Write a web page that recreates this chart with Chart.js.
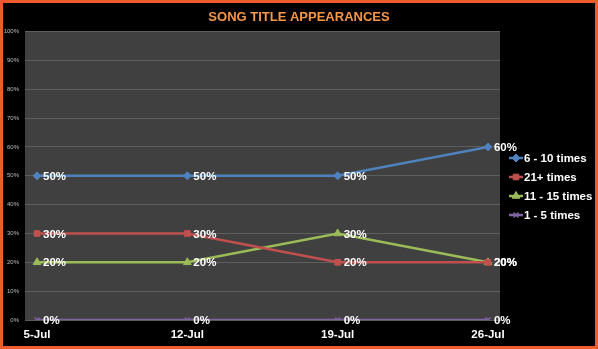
<!DOCTYPE html>
<html>
<head>
<meta charset="utf-8">
<script src="https://cdn.jsdelivr.net/npm/chart.js@4"></script>
<style>
  html, body { margin: 0; padding: 0; background: #000; }
  #wrap { width: 598px; height: 349px; position: relative; }
  canvas { display: block; }
</style>
</head>
<body>
<div id="wrap"><canvas id="c" width="598" height="349"></canvas></div>
<script>
// Weekly share of song titles by number of appearances
const weeks = ['5-Jul', '12-Jul', '19-Jul', '26-Jul'];
const seriesNames = ['6 - 10 times', '21+ times', '11 - 15 times', '1 - 5 times'];
const times6to10 = [50, 50, 50, 60];
const times21plus = [30, 30, 20, 20];
const times11to15 = [20, 20, 30, 20];
const times1to5 = [0, 0, 0, 0];
const yTicks = [0, 10, 20, 30, 40, 50, 60, 70, 80, 90, 100];

const seriesValues = [times6to10, times21plus, times11to15, times1to5];
const seriesColors = ['#4F81BD', '#C0504D', '#9BBB59', '#8064A2'];
const seriesMarkers = ['rectRot', 'rect', 'triangle', 'crossRot'];
const markerSizes = [4, 4, 4.5, 3.5];

const FONT = '"Liberation Sans", Arial, sans-serif';

const datasets = seriesNames.map((name, i) => ({
  label: name,
  data: seriesValues[i].map((v, k) => ({ x: k, y: v })),
  borderColor: seriesColors[i],
  backgroundColor: seriesColors[i],
  borderWidth: 2.5,
  pointStyle: seriesMarkers[i],
  pointRadius: markerSizes[i],
  pointBorderWidth: i === 3 ? 1.5 : 1,
  pointBorderColor: seriesColors[i],
  pointHoverRadius: markerSizes[i],
  tension: 0
}));

// Gray plot area behind the gridlines, plus the orange frame
const plotBackground = {
  id: 'plotBackground',
  beforeDraw(chart) {
    const { ctx, chartArea: a } = chart;
    ctx.save();
    ctx.fillStyle = '#404040';
    ctx.fillRect(a.left, a.top, a.right - a.left, a.bottom - a.top);
    ctx.restore();
  },
  afterDraw(chart) {
    const ctx = chart.ctx;
    ctx.save();
    ctx.strokeStyle = '#EE5B2C';
    ctx.lineWidth = 3;
    ctx.strokeRect(1.5, 1.5, chart.width - 3, chart.height - 3);
    ctx.restore();
  }
};

// Percentage labels to the right of every point
const valueLabels = {
  id: 'valueLabels',
  afterDatasetsDraw(chart) {
    const ctx = chart.ctx;
    ctx.save();
    ctx.font = 'bold 11.5px ' + FONT;
    ctx.fillStyle = '#FFFFFF';
    ctx.textAlign = 'left';
    ctx.textBaseline = 'middle';
    chart.data.datasets.forEach((ds, i) => {
      const meta = chart.getDatasetMeta(i);
      meta.data.forEach((pt, k) => {
        ctx.fillText(ds.data[k].y + '%', pt.x + 6, pt.y + 1);
      });
    });
    ctx.restore();
  }
};

// Legend on the right: short line with the series marker, then the name
const sideLegend = {
  id: 'sideLegend',
  afterDraw(chart) {
    const ctx = chart.ctx;
    const x0 = 509, x1 = 523, yStart = 158, step = 19;
    ctx.save();
    chart.data.datasets.forEach((ds, i) => {
      const y = yStart + i * step;
      ctx.strokeStyle = ds.borderColor;
      ctx.lineWidth = 2.5;
      ctx.beginPath();
      ctx.moveTo(x0, y);
      ctx.lineTo(x1, y);
      ctx.stroke();
      ctx.fillStyle = ds.backgroundColor;
      ctx.strokeStyle = ds.borderColor;
      ctx.lineWidth = ds.pointBorderWidth;
      Chart.helpers.drawPoint(ctx, { pointStyle: ds.pointStyle, radius: ds.pointRadius, rotation: 0, borderWidth: ds.pointBorderWidth }, (x0 + x1) / 2, y);
      ctx.font = 'bold 11.5px ' + FONT;
      ctx.fillStyle = '#FFFFFF';
      ctx.textBaseline = 'middle';
      ctx.textAlign = 'left';
      ctx.fillText(ds.label, x1 + 1, y + 1);
    });
    ctx.restore();
  }
};

new Chart(document.getElementById('c'), {
  type: 'line',
  data: { datasets },
  plugins: [plotBackground, valueLabels, sideLegend],
  options: {
    responsive: false,
    animation: false,
    events: [],
    layout: { padding: 0 },
    plugins: {
      legend: { display: false },
      tooltip: { enabled: false },
      title: {
        display: true,
        text: 'SONG TITLE APPEARANCES',
        color: '#F79646',
        font: { family: FONT, size: 13, weight: 'bold', lineHeight: 1.2 },
        padding: { top: 10, bottom: 6 }
      }
    },
    scales: {
      x: {
        type: 'linear',
        min: -0.08,
        max: 3.08,
        afterBuildTicks(scale) {
          scale.ticks = weeks.map((w, k) => ({ value: k }));
        },
        afterFit(scale) { scale.height = 29; },
        ticks: {
          color: '#FFFFFF',
          font: { family: FONT, size: 11.5, weight: 'bold' },
          padding: 8,
          maxRotation: 0,
          autoSkip: false,
          callback: (v) => weeks[v] !== undefined ? weeks[v] : ''
        },
        grid: { display: false, drawTicks: false },
        border: { display: true, color: '#595959', width: 1 }
      },
      y: {
        min: 0,
        max: 100,
        afterBuildTicks(scale) {
          scale.ticks = yTicks.map(v => ({ value: v }));
        },
        afterFit(scale) { scale.width = 25; },
        ticks: {
          color: '#BFBFBF',
          font: { family: FONT, size: 6 },
          padding: 6,
          callback: (v) => v + '%'
        },
        grid: { color: '#5E5E5E', lineWidth: 1, drawTicks: false },
        border: { display: false }
      },
      // empty right-hand axis that reserves the room used by the legend
      legendRoom: {
        type: 'linear',
        position: 'right',
        afterFit(scale) { scale.width = 98; },
        ticks: { display: false },
        grid: { display: false, drawTicks: false },
        border: { display: false }
      }
    }
  }
});
</script>
</body>
</html>
